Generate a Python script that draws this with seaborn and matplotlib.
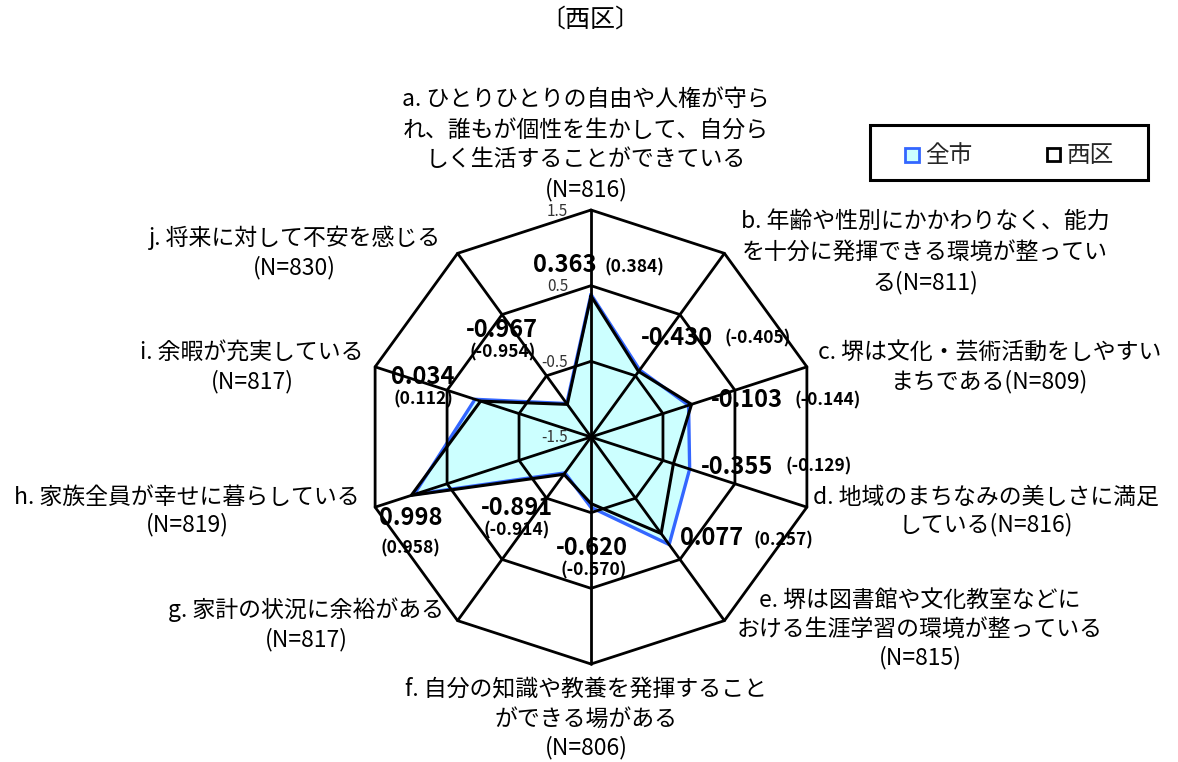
import numpy as np
import pandas as pd
import seaborn as sns
import matplotlib
matplotlib.use("Agg")
import matplotlib.pyplot as plt
from matplotlib.patches import Rectangle

# ---------------- data ----------------
title = "〔西区〕"
categories = [
    ["a. ひとりひとりの自由や人権が守ら", "れ、誰もが個性を生かして、自分ら", "しく生活することができている", "(N=816)"],
    ["b. 年齢や性別にかかわりなく、能力", "を十分に発揮できる環境が整ってい", "る(N=811)"],
    ["c. 堺は文化・芸術活動をしやすい", "まちである(N=809)"],
    ["d. 地域のまちなみの美しさに満足", "している(N=816)"],
    ["e. 堺は図書館や文化教室などに", "おける生涯学習の環境が整っている", "(N=815)"],
    ["f. 自分の知識や教養を発揮すること", "ができる場がある", "(N=806)"],
    ["g. 家計の状況に余裕がある", "(N=817)"],
    ["h. 家族全員が幸せに暮らしている", "(N=819)"],
    ["i. 余暇が充実している", "(N=817)"],
    ["j. 将来に対して不安を感じる", "(N=830)"],
]
nishi = [0.363, -0.430, -0.103, -0.355, 0.077, -0.620, -0.891, 0.998, 0.034, -0.967]
zenshi = [0.384, -0.405, -0.144, -0.129, 0.257, -0.570, -0.914, 0.958, 0.112, -0.954]
ring_values = [-1.5, -0.5, 0.5, 1.5]
series_names = ["全市", "西区"]

# ---------------- layout ----------------
W, H = 1178, 762
CX, CY = 591, 437
RMAX = 227.0
VMIN, VMAX = -1.5, 1.5
n = len(nishi)
angles = np.deg2rad(90 - 36 * np.arange(n))

def to_xy(vals):
    v = np.asarray(vals, dtype=float)
    r = (v - VMIN) / (VMAX - VMIN) * RMAX
    return CX + r * np.cos(angles), CY - r * np.sin(angles)

# label line anchors (center x, first line y, line step)
label_pos = [
    (586, 100, 30), (925, 221, 31), (990, 352, 30), (986, 497, 28),
    (920, 600, 29), (586, 690, 29), (306, 610, 30), (187, 497, 28),
    (252, 352, 30), (294, 238, 30),
]
# value label positions: (main x, main y, paren x, paren y)
val_pos = [
    (565, 265, 634, 267), (677, 338, 758, 338), (747, 400, 828, 400),
    (737, 467, 819, 466), (712, 538, 783, 540), (592, 548, 594, 570),
    (517, 508, 517, 530), (411, 518, 410, 548), (423, 377, 423, 399),
    (502, 330, 503, 352),
]

sns.set_theme(style="white")
plt.rcParams["font.family"] = ["Noto Sans CJK JP", "DejaVu Sans"]

fig = plt.figure(figsize=(W / 100, H / 100), dpi=100)
ax = fig.add_axes([0, 0, 1, 1])
ax.set_xlim(0, W)
ax.set_ylim(H, 0)
ax.axis("off")

# 全市 fill + line
zx, zy = to_xy(zenshi)
ax.fill(zx, zy, color="#ccffff", zorder=1)
df_z = pd.DataFrame({"x": np.r_[zx, zx[0]], "y": np.r_[zy, zy[0]]})
sns.lineplot(data=df_z, x="x", y="y", sort=False, estimator=None,
             color="#3366ff", lw=2.4, ax=ax, zorder=2)

# grid rings and spokes
for rv in ring_values[1:]:
    gx, gy = to_xy([rv] * n)
    ax.plot(np.r_[gx, gx[0]], np.r_[gy, gy[0]], color="black", lw=2, zorder=3)
ox, oy = to_xy([VMAX] * n)
for i in range(n):
    ax.plot([CX, ox[i]], [CY, oy[i]], color="black", lw=2, zorder=3)

# 西区 line
nx_, ny_ = to_xy(nishi)
df_n = pd.DataFrame({"x": np.r_[nx_, nx_[0]], "y": np.r_[ny_, ny_[0]]})
sns.lineplot(data=df_n, x="x", y="y", sort=False, estimator=None,
             color="black", lw=2.2, ax=ax, zorder=4)

# ring labels
for rv in ring_values:
    r = (rv - VMIN) / (VMAX - VMIN) * RMAX
    ax.text(CX - 23, CY - r + 1, f"{rv:.1f}", ha="right", va="center",
            fontsize=11, color="#333333", zorder=5)

# category labels
for lines, (lx, ly, step) in zip(categories, label_pos):
    for k, line in enumerate(lines):
        ax.text(lx, ly + k * step, line, ha="center", va="center", fontsize=16.5, color="black")

# value labels
for v, z, (mx, my, px, py) in zip(nishi, zenshi, val_pos):
    ax.text(mx, my, f"{v:.3f}", ha="center", va="center", fontsize=17,
            fontweight="bold", color="black", zorder=6)
    ax.text(px, py, f"({z:.3f})", ha="center", va="center", fontsize=12.5,
            fontweight="bold", color="black", zorder=6)

# title
ax.text(590, 20, title, ha="center", va="center", fontsize=18, color="black")

# legend
ax.add_patch(Rectangle((870, 125), 278, 55, fill=False, edgecolor="black", lw=2.2, zorder=5))
ax.add_patch(Rectangle((905, 148), 14, 14, facecolor="#ccffff", edgecolor="#3366ff", lw=2, zorder=6))
ax.text(925, 155, series_names[0], ha="left", va="center", fontsize=17)
ax.add_patch(Rectangle((1047, 148), 13, 13, facecolor="white", edgecolor="black", lw=2, zorder=6))
ax.text(1067, 155, series_names[1], ha="left", va="center", fontsize=17)

fig.savefig("out.png", dpi=100)
